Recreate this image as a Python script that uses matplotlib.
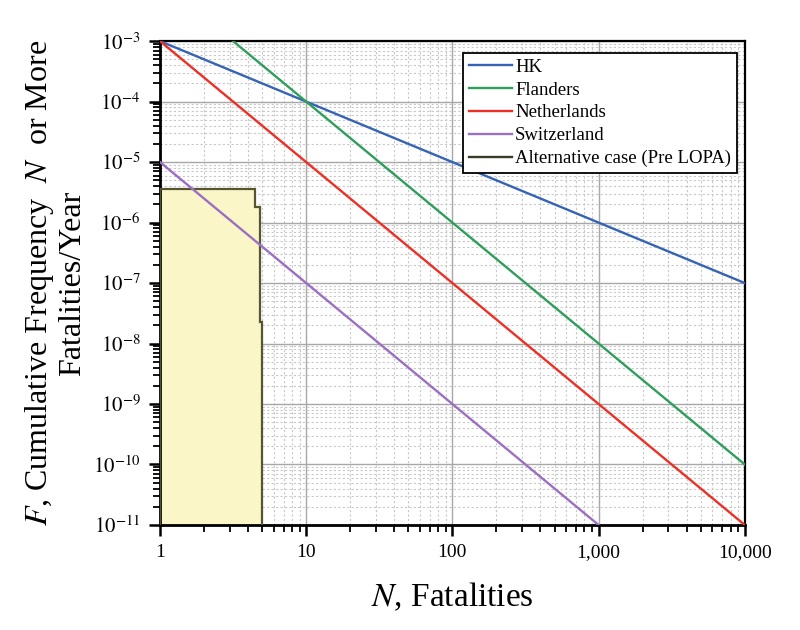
import matplotlib.pyplot as plt
from matplotlib.lines import Line2D
from matplotlib.ticker import FixedLocator, LogLocator, NullFormatter

plt.rcParams['font.family'] = ['Liberation Serif', 'DejaVu Serif']
plt.rcParams['mathtext.fontset'] = 'stix'

# F-N criterion lines, end points
hk_n = [1, 10000]
hk_f = [1e-3, 1e-7]
flanders_n = [1, 10000]
flanders_f = [1e-2, 1e-10]
netherlands_n = [1, 10000]
netherlands_f = [1e-3, 1e-11]
switzerland_n = [1, 1000]
switzerland_f = [1e-5, 1e-11]

# Alternative case (Pre LOPA): step edges and levels
alt_edges = [1, 4.5, 4.8, 5.0]
alt_f = [3.6e-6, 1.8e-6, 2.3e-8]
alt_floor = 1e-11

x_ticks = [1, 10, 100, 1000, 10000]
x_labels = ['1', '10', '100', '1,000', '10,000']
y_ticks = [1e-11, 1e-10, 1e-9, 1e-8, 1e-7, 1e-6, 1e-5, 1e-4, 1e-3]
y_labels = ['$10^{%d}$' % e for e in range(-11, -2)]

fig = plt.figure(figsize=(8, 6.3), dpi=100)
ax = fig.add_axes([0.2, 0.1667, 0.731, 0.768])

ax.stairs(alt_f, alt_edges, baseline=alt_floor, fill=True, color='#fbf6c8', zorder=1)
ax.stairs(alt_f, alt_edges, baseline=alt_floor, fill=False, color='#55552e',
          linewidth=1.6, zorder=3)

ax.plot(hk_n, hk_f, color='#3563b5', lw=1.7, label='HK', zorder=4)
ax.plot(flanders_n, flanders_f, color='#2f9e5c', lw=1.7, label='Flanders', zorder=4)
ax.plot(netherlands_n, netherlands_f, color='#ec3026', lw=1.7, label='Netherlands', zorder=4)
ax.plot(switzerland_n, switzerland_f, color='#9b6fc2', lw=1.7, label='Switzerland', zorder=4)

ax.set_xscale('log')
ax.set_yscale('log')
ax.set_xlim(1, 10000)
ax.set_ylim(1e-11, 1e-3)

ax.xaxis.set_major_locator(FixedLocator(x_ticks))
ax.set_xticklabels(x_labels, fontsize=14)
ax.xaxis.set_minor_locator(LogLocator(base=10, subs=range(2, 10)))
ax.xaxis.set_minor_formatter(NullFormatter())
ax.yaxis.set_major_locator(FixedLocator(y_ticks))
ax.set_yticklabels(y_labels, fontsize=15)
ax.yaxis.set_minor_locator(LogLocator(base=10, subs=range(2, 10)))
ax.yaxis.set_minor_formatter(NullFormatter())

ax.tick_params(which='major', direction='out', length=8, width=1.8, pad=6)
ax.tick_params(which='minor', direction='out', length=5, width=1.3)
ax.tick_params(top=False, right=False, which='both')

ax.grid(True, which='major', color='#a8a8a8', linewidth=1.0, zorder=0)
ax.grid(True, which='minor', color='#c8c8c8', linewidth=0.8, linestyle=(0, (2, 2)), zorder=0)
ax.set_axisbelow(True)

for side in ['left', 'bottom']:
    ax.spines[side].set_linewidth(2.0)
for side in ['top', 'right']:
    ax.spines[side].set_linewidth(1.6)

ax.set_xlabel('$N$, Fatalities', fontsize=24, labelpad=14)
ax.set_ylabel('$F$, Cumulative Frequency  $N$  or More\nFatalities/Year', fontsize=23,
              labelpad=4, linespacing=1.12)

handles, labels = ax.get_legend_handles_labels()
handles.append(Line2D([], [], color='#3a3a2a', lw=1.7))
labels.append('Alternative case (Pre LOPA)')
leg = ax.legend(handles, labels, loc='upper right',
                bbox_to_anchor=(0.986, 0.975), borderaxespad=0, fontsize=13.5,
                fancybox=False, framealpha=1, edgecolor='black', handlelength=2.3,
                handletextpad=0.15, labelspacing=0.3, borderpad=0.3)
leg.get_frame().set_linewidth(1.3)

fig.savefig('out.png', dpi=100)
